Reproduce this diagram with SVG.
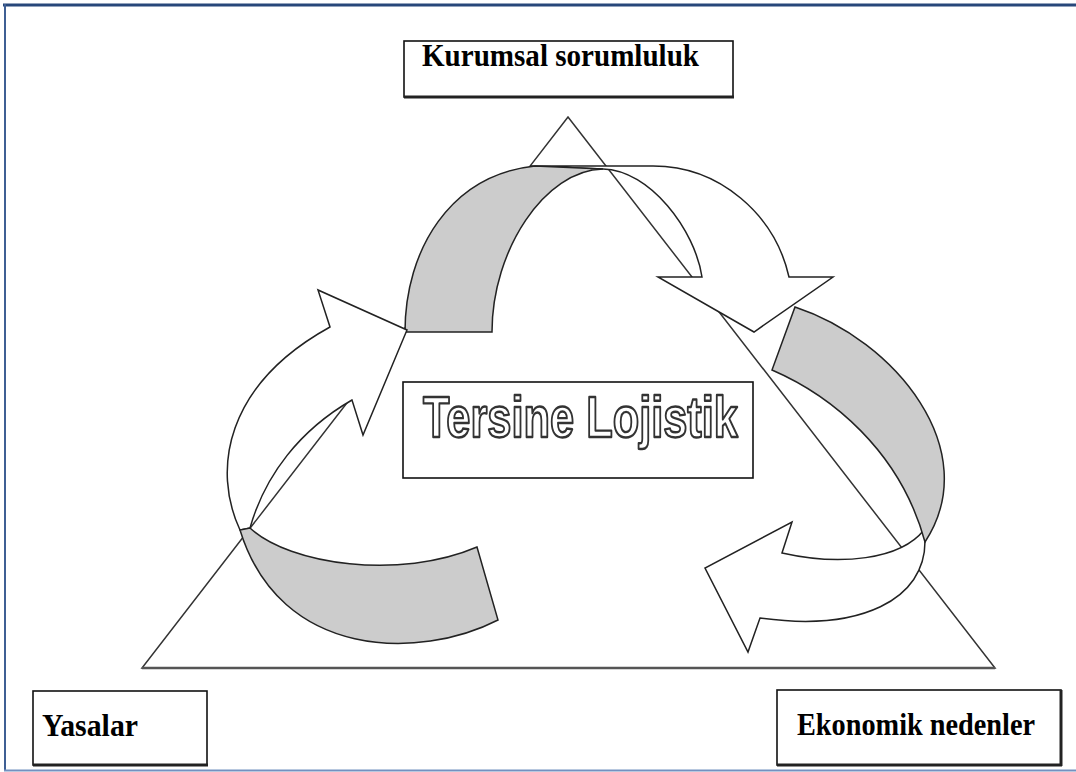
<svg xmlns="http://www.w3.org/2000/svg" width="1076" height="772" viewBox="0 0 1076 772">
  <style>
    .box { fill: #ffffff; stroke: #111111; stroke-width: 1.6; }
    .shadow { stroke: #222222; stroke-width: 3; fill: none; }
    .label { font-family: "Liberation Serif", "Times New Roman", serif; font-weight: bold; font-size: 32px; fill: #000000; }
    .title { font-family: "Liberation Sans", Arial, sans-serif; font-weight: bold; font-size: 58px; fill: #ffffff; stroke: #333333; stroke-width: 2.4; stroke-linejoin: round; }
    .front { fill: #ffffff; stroke: #222222; stroke-width: 1.5; stroke-linejoin: miter; }
    .back { fill: #cccccc; stroke: #222222; stroke-width: 1.5; stroke-linejoin: miter; }
    .tri { fill: none; stroke: #333333; stroke-width: 1.5; stroke-linejoin: miter; }
  </style>

  <rect width="1076" height="772" fill="#ffffff"/>

  <!-- page frame -->
  <g id="frame">
    <line x1="3" y1="5" x2="1076" y2="5" stroke="#27477a" stroke-width="3"/>
    <line x1="5" y1="4" x2="5" y2="771" stroke="#3f5f94" stroke-width="2"/>
    <line x1="4" y1="770.5" x2="1076" y2="770.5" stroke="#7391c0" stroke-width="2"/>
  </g>

  <!-- background triangle -->
  <g id="triangle">
    <polygon class="tri" points="568,117 995,668 142,668"/>
    <line x1="142" y1="668" x2="995" y2="668" stroke="#555555" stroke-width="2.5"/>
  </g>

  <!-- three twisted curved arrows forming the cycle -->
  <g id="connectors">
    <!-- top arch: left leg up, arrow down toward the right -->
    <g id="arrow-top">
      <path class="front" d="M530,166 L653,166 C720,166 775,215 789,277 L833,277 L754,332 L658,277 L702,277 C695,230 650,170 603,169 Z"/>
      <path class="back" d="M405,332 C405,250 450,175 535,166 L603,169 C545,170 492,250 492,332 Z"/>
    </g>
    <!-- right side: band down, arrow pointing back to the left -->
    <g id="arrow-right">
      <path class="front" d="M925,540 C926,600 860,632 760,618 L748,652 L705,568 L792,522 L782,553 C840,566 900,560 924,530 Z"/>
      <path class="back" d="M795,307 C895,340 985,450 925,542 C900,450 830,395 772,370 Z"/>
    </g>
    <!-- left side: band at the bottom, arrow rising to the top -->
    <g id="arrow-left">
      <path class="front" d="M240,530 C212,470 225,385 330,327 L318,290 L407,330 L363,435 L352,400 C300,430 265,475 250,528 Z"/>
      <path class="back" d="M250,528 C290,565 400,580 477,547 L498,620 C420,660 280,660 240,530 Z"/>
    </g>
  </g>

  <!-- nodes -->
  <g id="node-kurumsal">
    <rect class="box" x="404" y="41" width="329" height="56"/>
    <line class="shadow" x1="404" y1="97" x2="734" y2="97"/>
    <text class="label" x="422" y="66" textLength="277" lengthAdjust="spacingAndGlyphs">Kurumsal sorumluluk</text>
  </g>

  <g id="node-tersine">
    <rect class="box" x="403" y="382" width="350" height="96" stroke-width="2"/>
    <text class="title" x="423" y="437" textLength="315" lengthAdjust="spacingAndGlyphs">Tersine Lojistik</text>
  </g>

  <g id="node-yasalar">
    <rect class="box" x="33" y="691" width="174" height="74"/>
    <line class="shadow" x1="33" y1="765" x2="208" y2="765"/>
    <text class="label" x="42" y="736" textLength="96" lengthAdjust="spacingAndGlyphs">Yasalar</text>
  </g>

  <g id="node-ekonomik">
    <rect class="box" x="777" y="690" width="284" height="75"/>
    <line class="shadow" x1="777" y1="765" x2="1062" y2="765"/>
    <line class="shadow" x1="1061" y1="690" x2="1061" y2="766"/>
    <text class="label" x="797" y="735" textLength="238" lengthAdjust="spacingAndGlyphs">Ekonomik nedenler</text>
  </g>
</svg>
